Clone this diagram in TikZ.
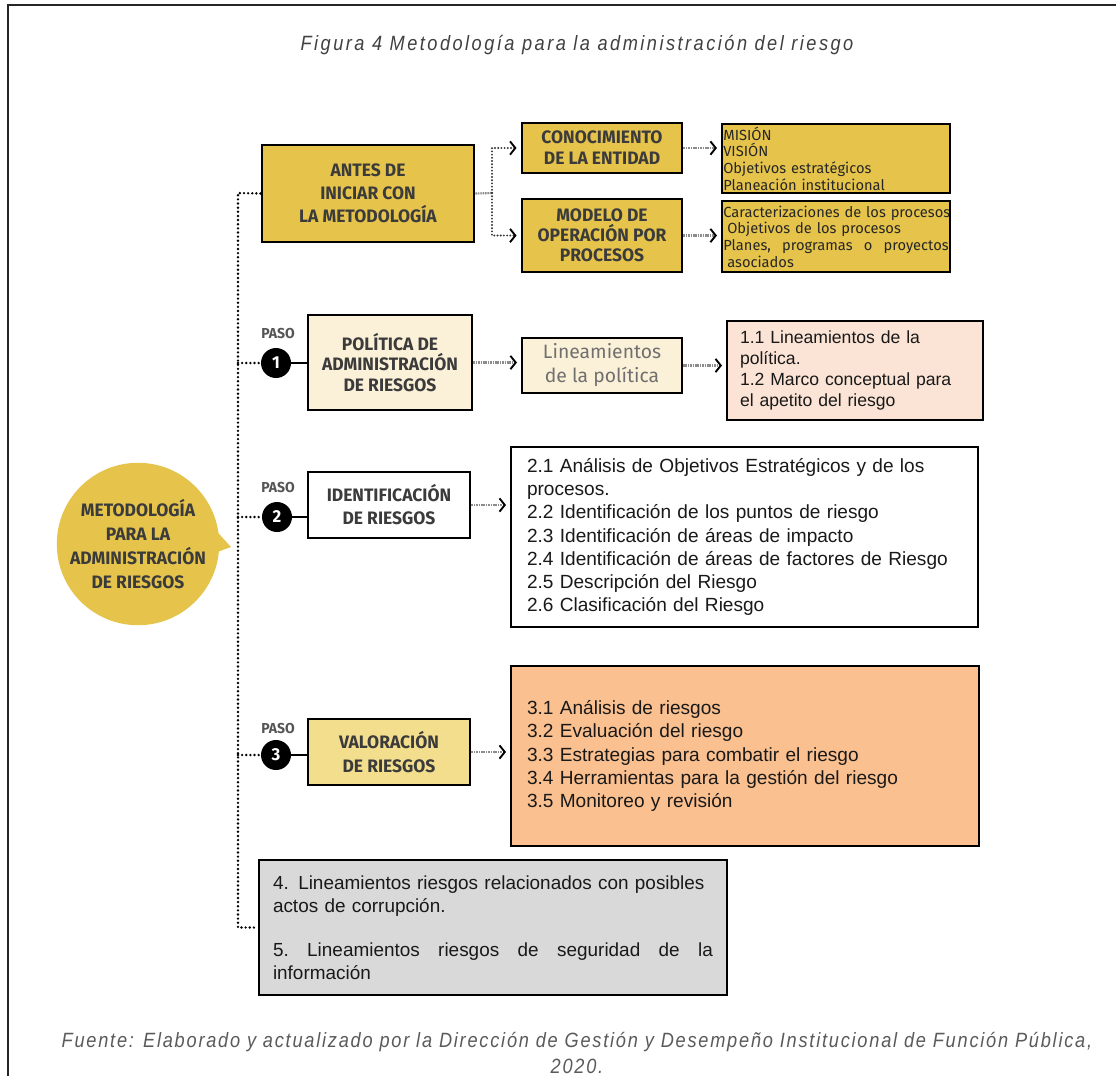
\documentclass[tikz,border=0pt]{standalone}
\usepackage{fontspec}
\setmainfont{Liberation Sans}
\newfontfamily\dinfam{Fira Sans}[FakeStretch=0.97]
\newfontfamily\dinreg{Fira Sans}
\newfontfamily\titlefam{Liberation Sans}[FakeStretch=0.88, LetterSpace=12]
\newfontfamily\srcfam{Liberation Sans}[FakeStretch=0.88, LetterSpace=8.6]
\usetikzlibrary{arrows.meta}
\definecolor{gold}{HTML}{E6C44B}
\definecolor{cream}{HTML}{FBF1D8}
\definecolor{lightgold}{HTML}{F3DE8E}
\definecolor{peach}{HTML}{FBE4D6}
\definecolor{orangebox}{HTML}{FBC08F}
\definecolor{grayfill}{HTML}{D9D9D9}
\definecolor{dintext}{HTML}{3B3B3B}
\definecolor{pasogray}{HTML}{555555}
\definecolor{captext}{HTML}{404040}
\definecolor{srctext}{HTML}{5A5A5A}
\definecolor{gtext}{HTML}{707070}
\tikzset{
  dinbox/.style={draw=black, line width=2.2pt, inner sep=0pt, align=center, text=dintext,
    font=\dinfam\bfseries\fontsize{13.5}{17.25}\selectfont},
  smallbox/.style={draw=black, line width=1.6pt, inner sep=0pt, fill=gold, align=left,
    minimum width=171pt, text width=169pt, text=black!85, font=\dinreg\fontsize{11}{12.5}\selectfont},
  gbox/.style={draw=black, line width=1.6pt, inner sep=0pt, fill=cream, align=center,
    text=gtext, font=\dinreg\fontsize{14.5}{18}\selectfont},
  abox/.style={draw=black, line width=1.5pt, inner sep=0pt, align=left, text=black!90,
    font=\fontsize{14.3}{17.5}\selectfont},
  bubble/.style={circle, fill=gold, minimum size=118.5pt, inner sep=0pt, align=center,
    text=dintext, font=\dinfam\bfseries\fontsize{13.5}{18}\selectfont},
  stepc/.style={circle, fill=black, minimum size=22.5pt, inner sep=0pt, text=white,
    font=\dinfam\bfseries\fontsize{13}{13}\selectfont},
  paso/.style={text=pasogray, inner sep=0pt, font=\dinfam\bfseries\fontsize{10.8}{11}\selectfont},
  spine/.style={draw=black, line width=2pt, line cap=round, dash pattern=on 0pt off 3.1pt},
  forkline/.style={draw=black!80, line width=1.6pt, line cap=round, dash pattern=on 0pt off 2.4pt,
    -{Straight Barb[length=4pt,width=10pt,line width=1.4pt,color=black]}},
  gline/.style={draw=black!45, line width=1.6pt, dash pattern=on 1.2pt off 0.6pt},
  garrow/.style={gline, shorten >=3pt,
    -{Straight Barb[length=4pt,width=10pt,line width=1.4pt,color=black]}},
  solidlink/.style={draw=black, line width=2.2pt},
  frame/.style={draw=black!85, line width=1.5pt},
  captionstyle/.style={inner sep=0pt, align=center}
}
\begin{document}
\begin{tikzpicture}[x=0.75pt,y=-0.75pt]
\useasboundingbox (0,0) rectangle (1116,1076);
\draw[frame] (8,1076) -- (8,5) -- (1116,5);

\node[captionstyle, text=captext, font=\titlefam\itshape\fontsize{15.5}{19.5}\selectfont] (title) at (577,45) {Figura 4 Metodología para la administración del riesgo};
\node[captionstyle, text=srctext, font=\srcfam\itshape\fontsize{15.5}{19.5}\selectfont] (source) at (577,1053) {Fuente: Elaborado y actualizado por la Dirección de Gestión y Desempeño Institucional de Función Pública,\\2020.};

% top group
\node[dinbox, fill=gold, minimum width=159pt, minimum height=72.75pt] (A) at (368,193.5) {ANTES DE\\INICIAR CON\\LA METODOLOGÍA};
\node[dinbox, fill=gold, minimum width=120pt, minimum height=37.5pt, font=\dinfam\bfseries\fontsize{13.5}{15.75}\selectfont] (B) at (602,148) {CONOCIMIENTO\\DE LA ENTIDAD};
\node[dinbox, fill=gold, minimum width=120pt, minimum height=54.75pt, font=\dinfam\bfseries\fontsize{13.5}{15}\selectfont] (C) at (602,235.5) {MODELO DE\\OPERACIÓN POR\\PROCESOS};
\node[smallbox, minimum height=51.75pt] (D) at (836,158.5) {MISIÓN\\VISIÓN\\Objetivos estratégicos\\Planeación institucional};
\node[smallbox, minimum height=53.25pt] (E) at (836,236.5) {\mbox{Caracterizaciones de los procesos}\\\hspace*{3pt}Objetivos de los procesos\\\makebox[169pt][l]{Planes,\hfill programas\hfill o\hfill proyectos}\\\hspace*{3pt}asociados};

% step 1
\node[dinbox, fill=cream, minimum width=123pt, minimum height=71.25pt, font=\dinfam\bfseries\fontsize{13.5}{15.4}\selectfont] (F) at (390,362.5) {POLÍTICA DE\\ADMINISTRACIÓN\\DE RIESGOS};
\node[gbox, minimum width=120pt, minimum height=41.25pt] (G) at (602,365.5) {Lineamientos\\de la política};
\node[abox, fill=peach, minimum width=192pt, minimum height=74.25pt, text width=172.5pt, font=\fontsize{13.2}{15.75}\selectfont] (H) at (855,370.5) {1.1 Lineamientos de la\\política.\\1.2 Marco conceptual para\\el apetito del riesgo};

% step 2
\node[dinbox, fill=white, minimum width=121.5pt, minimum height=49.5pt] (I) at (389,505) {IDENTIFICACIÓN\\DE RIESGOS};
\node[abox, fill=white, minimum width=350.25pt, minimum height=135pt, text width=326.25pt, font=\fontsize{14.3}{17.4}\selectfont] (J) at (744.5,537) {2.1 Análisis de Objetivos Estratégicos y de los\\procesos.\\2.2 Identificación de los puntos de riesgo\\2.3 Identificación de áreas de impacto\\2.4 Identificación de áreas de factores de Riesgo\\2.5 Descripción del Riesgo\\2.6 Clasificación del Riesgo};

% step 3
\node[dinbox, fill=lightgold, minimum width=121.5pt, minimum height=49.5pt, font=\dinfam\bfseries\fontsize{13.5}{18}\selectfont] (K) at (389,752) {VALORACIÓN\\DE RIESGOS};
\node[abox, fill=orangebox, minimum width=351pt, minimum height=135pt, text width=327pt, font=\fontsize{14.3}{17.6}\selectfont] (L) at (745,756) {3.1 Análisis de riesgos\\3.2 Evaluación del riesgo\\3.3 Estrategias para combatir el riesgo\\3.4 Herramientas para la gestión del riesgo\\3.5 Monitoreo y revisión};

% bottom box
\node[abox, fill=grayfill, line width=2.2pt, minimum width=351pt, minimum height=101.25pt, text width=330pt, font=\fontsize{14.2}{17.6}\selectfont] (M) at (493,927.5) {\mbox{4. Lineamientos riesgos relacionados con posibles}\\actos de corrupción.\\[15pt]\makebox[330pt][l]{5.\hfill Lineamientos\hfill riesgos\hfill de\hfill seguridad\hfill de\hfill la}\\información};

% bubble
\coordinate (tip) at (231,547);
\fill[gold] (138,544) ++(6:79) -- (tip) -- ([shift={(-10:79)}]138,544) -- cycle;
\node[bubble] (bub) at (138,544) {METODOLOGÍA\\PARA LA\\ADMINISTRACIÓN\\DE RIESGOS};

% step markers
\node[stepc] (c1) at (276,363) {1};
\node[stepc] (c2) at (277,517) {2};
\node[stepc] (c3) at (276,755) {3};
\node[paso] (p1) at (278,333) {PASO};
\node[paso] (p2) at (278,487) {PASO};
\node[paso] (p3) at (278,728) {PASO};

% spine
\coordinate (sp) at (238,193);
\draw[spine] (A.west) -- (sp) -- (sp |- M.west) -- (M.west);
\draw[spine] (sp |- c1.west) -- (c1.west);
\draw[spine] (sp |- c2.west) -- (c2.west);
\draw[spine] (sp |- c3.west) -- (c3.west);

\draw[solidlink] (c1.east) -- (c1.east -| F.west);
\draw[solidlink] (c2.east) -- (c2.east -| I.west);
\draw[solidlink] (c3.east) -- (c3.east -| K.west);

% fork
\coordinate (fk) at (492,193);
\draw[gline] (A.east) -- (fk);
\draw[forkline, shorten >=3pt] (fk) |- (B.west);
\draw[forkline, shorten >=3pt] (fk) |- (C.west);

% arrows
\draw[garrow] (B.east) -- (B.east -| D.west);
\draw[garrow] (C.east) -- (C.east -| E.west);
\draw[garrow] (F.east) -- (F.east -| G.west);
\draw[garrow] (G.east) -- (G.east -| H.west);
\draw[garrow] (I.east) -- (I.east -| J.west);
\draw[garrow] (K.east) -- (K.east -| L.west);
\end{tikzpicture}
\end{document}
